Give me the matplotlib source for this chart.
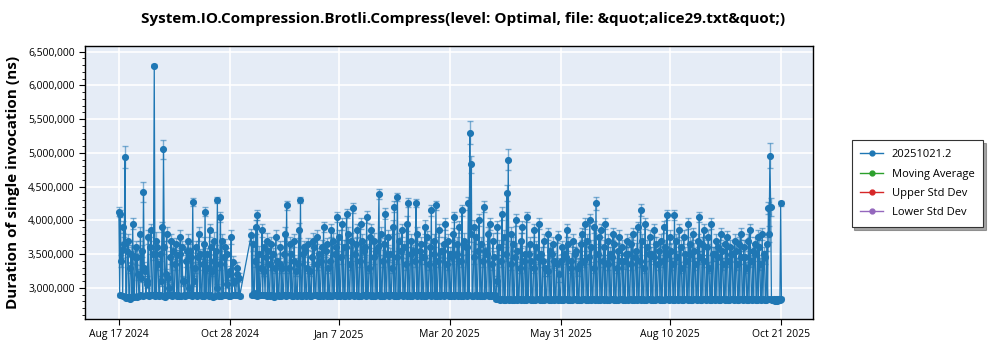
import matplotlib
matplotlib.use("Agg")
import matplotlib.pyplot as plt
import matplotlib.dates as mdates
from matplotlib.ticker import FuncFormatter, MultipleLocator
from matplotlib.lines import Line2D
import numpy as np
import pandas as pd

plt.rcParams["font.family"] = ["Open Sans", "DejaVu Sans"]

TITLE = "System.IO.Compression.Brotli.Compress(level: Optimal, file: &quot;alice29.txt&quot;)"
Y_LABEL = "Duration of single invocation (ns)"
SERIES_NAME = "20251021.2"
LEGEND_NAMES = ["Moving Average", "Upper Std Dev", "Lower Std Dev"]

# daily runs (two per day), two stretches with a gap in early November 2024
SEG1_START = "2024-08-17"
SEG2_START = "2024-11-11"

# first run of each day, mean in thousands of ns
SEG1_A = [
    4130, 4100, 3560, 3900, 4940, 2860, 3700,
    2840, 3500, 3950, 2870, 3600, 3450, 2880,
    3800, 3550, 4420, 3250, 3100, 3750, 2900,
    3850, 2900, 6290, 3700, 3600, 2880, 3500,
    3900, 5050, 2870, 3800, 3150, 2890, 3700,
    3550, 2900, 3650, 3480, 2880, 3750, 3600,
    3100, 2880, 3550, 3700, 2890, 3450, 4270,
    3100, 3600, 2900, 3800, 3500, 2880, 3650,
    4130, 3300, 2890, 3850, 3600, 2870, 3700,
    3550, 4300, 2880, 4050, 3700, 2890, 3600,
    3500, 3200, 2880, 3750, 3380, 3080, 2900,
    3300, 3150,
]
# second run of each day
SEG1_B = [
    2900, 3400, 2880, 3650, 2850, 3550, 2870,
    3300, 2860, 2880, 3450, 2870, 3200, 2900,
    3150, 2880, 3300, 2900, 3050, 2880, 3600,
    2890, 3500, 2880, 2900, 3350, 2890, 3100,
    2880, 3600, 3200, 2890, 3000, 3450, 2880,
    2900, 3350, 2880, 2890, 3500, 2880, 3100,
    2890, 3400, 2900, 3000, 3550, 2880, 2890,
    3300, 2880, 3450, 2900, 2890, 3350, 2880,
    2900, 3500, 2880, 2890, 3250, 3400, 2880,
    3000, 2890, 3350, 2880, 2900, 3450, 2890,
    3050, 2880, 3250, 2900, 3100, 2890, 3200,
    2900, 2880,
]
SEG2_A = [
    3780, 3650, 2920, 3900, 4080, 3500, 2900,
    3850, 3600, 2890, 3700, 3550, 2880, 3650,
    3500, 2870, 3750, 3400, 2880, 3600, 3300,
    2890, 3800, 4220, 2900, 3650, 3500, 2880,
    3700, 3250, 2890, 3850, 4300, 2880, 3600,
    3550, 2900, 3650, 3250, 2880, 3700, 3600,
    2890, 3750, 3500, 2880, 3600, 3900, 2900,
    3650, 3300, 2880, 3850, 3700, 2890, 3600,
    4050, 3750, 2900, 3950, 3600, 2880, 4100,
    3800, 2890, 3700, 4180, 2900, 3650, 3850,
    2880, 3950, 3700, 2890, 3600, 4050, 2900,
    3750, 3850, 2880, 3700, 3550, 2890, 4390,
    3800, 2880, 3650, 4100, 2900, 3750, 3500,
    2890, 3900, 4200, 2880, 4350, 3700, 2900,
    3850, 3600, 2890, 3950, 4260, 2880, 3700,
    3550, 2900, 4260, 3800, 2890, 3650, 3450,
    2880, 3900, 3750, 2900, 3600, 4150, 2890,
    3700, 4220, 2880, 3850, 3550, 2900, 3650,
    3950, 2890, 3700, 3500, 2880, 3800, 4050,
    2900, 3650, 3900, 2880, 4150, 3700, 2890,
    3600, 4250, 5300, 4830, 2880, 3900, 3750,
    2890, 4000, 3650, 2880, 4200, 3550, 2900,
    3800, 3950, 2880, 3700, 3450, 2840, 3900,
    3600, 2830, 4100, 3750, 2820, 4410, 4900,
    2830, 3800, 3650, 2820, 4000, 3550, 2830,
    3700, 3900, 2820, 3500, 4050, 2830, 3650,
    3400, 2820, 3850, 3600, 2830, 3950, 3500,
    2820, 3700, 3300, 2830, 3800, 3550, 2820,
    3650, 3400, 2830, 3750, 3200, 2820, 3600,
    3500, 2830, 3850, 3650, 2820, 3400, 3700,
    2830, 3550, 3300, 2820, 3650, 3800, 2830,
    3950, 3700, 2820, 4000, 3600, 2830, 3900,
    4250, 2820, 3750, 3850, 2830, 3600, 3950,
    2820, 3700, 3500, 2830, 3800, 3650, 2820,
    3550, 3750, 2830, 3600, 3400, 2820, 3700,
    3500, 2830, 3650, 3800, 2820, 3550, 3900,
    2830, 4150, 3700, 2820, 3950, 3600, 2830,
    3750, 3500, 2820, 3850, 3650, 2830, 3550,
    3700, 2820, 3900, 3600, 4080, 2830, 3750,
    3550, 2820, 4080, 3700, 2830, 3850, 3600,
    2820, 3750, 3500, 2830, 3950, 3650, 2820,
    3800, 3550, 2830, 3700, 4050, 2820, 3650,
    3850, 2830, 3600, 3750, 2820, 3950, 3500,
    2830, 3700, 3600, 2820, 3800, 3550, 2830,
    3650, 3750, 2820, 3600, 3500, 2830, 3700,
    3550, 2820, 3650, 3800, 2830, 3600, 3450,
    2820, 3700, 3850, 2830, 3550, 3650, 2820,
    3750, 3600, 2830, 3800, 3500, 2820, 3650,
    4180, 4960, 2830, 2820, 2810, 2830, 2820,
    2830, 4250,
]
SEG2_B = [
    2900, 2890, 3400, 2880, 2900, 2890, 3300,
    2890, 3250, 3450, 2880, 2900, 3350, 2890,
    2880, 3300, 2890, 2900, 3350, 2880, 2890,
    3500, 2880, 2900, 3300, 2890, 2880, 3400,
    2890, 2880, 3350, 2900, 2880, 3500, 2890,
    2880, 3300, 2890, 2880, 3450, 2890, 2900,
    3350, 2880, 2890, 3400, 2880, 2890, 3550,
    2880, 2900, 3400, 2880, 2890, 3500, 2880,
    2890, 2880, 3450, 2890, 2880, 3600, 2890,
    2880, 3350, 2890, 2880, 3500, 2890, 2880,
    3400, 2880, 2890, 3550, 2880, 2890, 3300,
    2880, 2890, 3450, 2880, 2900, 3600, 2880,
    2890, 3400, 2880, 2890, 3500, 2880, 2890,
    3300, 2880, 2890, 3450, 2880, 2890, 3550,
    2880, 2890, 3350, 2880, 2890, 3500, 2880,
    2890, 3400, 2880, 2890, 3550, 2880, 2900,
    3450, 2880, 2890, 3350, 2880, 2890, 3500,
    2880, 2890, 3400, 2880, 2890, 3550, 2880,
    2890, 3350, 2880, 2890, 3450, 2880, 2890,
    3500, 2880, 2890, 3400, 2880, 2890, 3600,
    2880, 2890, 3800, 2880, 3450, 2890, 2880,
    3550, 2880, 2890, 3400, 2880, 2890, 3500,
    2880, 2890, 3350, 2880, 2890, 3100, 2830,
    2820, 3400, 2830, 2820, 3500, 2830, 2820,
    3350, 2820, 2830, 3450, 2820, 2830, 3300,
    2820, 2830, 3400, 2820, 2830, 3500, 2820,
    2830, 3300, 2820, 2830, 3450, 2820, 2830,
    3400, 2820, 2830, 3250, 2820, 2830, 3500,
    2820, 2830, 3350, 2820, 2830, 3400, 2820,
    2830, 3450, 2820, 2830, 3300, 2820, 2830,
    3500, 2820, 2830, 3350, 2820, 2830, 3400,
    2820, 2830, 3450, 2820, 2830, 3300, 2820,
    2830, 3500, 2820, 2830, 3400, 2820, 2830,
    3350, 2820, 2830, 3450, 2820, 2830, 3300,
    2820, 2830, 3400, 2820, 2830, 3500, 2820,
    2830, 3350, 2820, 2830, 3450, 2820, 2830,
    3400, 2820, 2830, 3300, 2820, 2830, 3500,
    2820, 2830, 3450, 2820, 2830, 3350, 2820,
    2830, 3400, 2820, 2830, 3500, 2820, 2830,
    3350, 2820, 2830, 3450, 2820, 2830, 3300,
    2820, 2830, 3400, 2820, 2830, 3500, 2820,
    2830, 3350, 2820, 2830, 3450, 2820, 2830,
    3400, 2820, 2830, 3300, 2820, 2830, 3500,
    2820, 2830, 3450, 2820, 2830, 3350, 2820,
    2830, 3400, 2820, 2830, 3500, 2820, 2830,
    3350, 2820, 2830, 3450, 2820, 2830, 3300,
    2820, 2830, 3400, 2820, 2830, 3500, 2820,
    2830, 3350, 2820, 2830, 3450, 2820, 2830,
    3800, 4200, 2820, 2830, 2820, 2810, 2830,
    2820, 2830,
]

# std dev per run, thousands of ns
SEG1_A_ERR = [
    60, 50, 120, 90, 160, 30, 100,
    30, 130, 80, 30, 90, 110, 30,
    100, 90, 150, 80, 70, 100, 30,
    90, 30, 20, 120, 100, 30, 110,
    80, 140, 30, 100, 70, 30, 90,
    100, 30, 90, 80, 30, 100, 90,
    60, 30, 100, 90, 30, 80, 60,
    70, 90, 30, 100, 80, 30, 110,
    60, 80, 30, 90, 100, 30, 120,
    90, 40, 30, 70, 100, 30, 120,
    90, 80, 30, 100, 90, 60, 30,
    80, 70,
]
SEG1_B_ERR = [
    30, 90, 30, 100, 30, 90, 30,
    80, 30, 30, 90, 30, 80, 30,
    70, 30, 80, 30, 60, 30, 100,
    30, 90, 30, 30, 80, 30, 70,
    30, 100, 80, 30, 60, 90, 30,
    30, 80, 30, 30, 90, 30, 70,
    30, 90, 30, 60, 100, 30, 30,
    80, 30, 90, 30, 30, 80, 30,
    30, 90, 30, 30, 70, 90, 30,
    60, 30, 80, 30, 30, 90, 30,
    60, 30, 70, 30, 60, 30, 80,
    30, 30,
]
SEG2_A_ERR = [
    90, 110, 30, 100, 80, 120, 30,
    100, 90, 30, 110, 80, 30, 100,
    90, 30, 110, 100, 30, 90, 80,
    30, 100, 70, 30, 110, 90, 30,
    100, 80, 30, 110, 50, 30, 90,
    100, 30, 90, 80, 30, 110, 90,
    30, 100, 90, 30, 110, 80, 30,
    90, 80, 30, 100, 110, 30, 90,
    80, 100, 30, 90, 110, 30, 70,
    100, 30, 110, 70, 30, 90, 100,
    30, 80, 100, 30, 110, 90, 30,
    100, 90, 30, 110, 80, 30, 70,
    100, 30, 90, 80, 30, 110, 90,
    30, 100, 80, 30, 60, 110, 30,
    90, 100, 30, 110, 70, 30, 100,
    90, 30, 60, 100, 30, 110, 90,
    30, 100, 90, 30, 110, 80, 30,
    100, 70, 30, 90, 110, 30, 100,
    90, 30, 100, 110, 30, 90, 80,
    30, 100, 90, 30, 80, 110, 30,
    100, 90, 170, 130, 30, 110, 100,
    30, 90, 110, 30, 80, 100, 30,
    100, 90, 30, 110, 100, 30, 90,
    110, 30, 90, 100, 30, 120, 150,
    30, 100, 110, 30, 90, 120, 30,
    110, 90, 30, 120, 80, 30, 100,
    110, 30, 90, 100, 30, 80, 110,
    30, 100, 120, 30, 90, 110, 30,
    100, 110, 30, 90, 120, 30, 100,
    110, 30, 90, 100, 30, 110, 100,
    30, 110, 120, 30, 100, 90, 30,
    80, 100, 30, 90, 110, 30, 90,
    90, 30, 100, 90, 30, 110, 80,
    30, 100, 110, 30, 90, 100, 30,
    110, 100, 30, 110, 120, 30, 100,
    110, 30, 100, 90, 30, 110, 80,
    30, 90, 100, 30, 80, 110, 30,
    100, 110, 30, 90, 100, 30, 110,
    100, 30, 90, 110, 80, 30, 100,
    110, 30, 80, 100, 30, 90, 110,
    30, 100, 110, 30, 80, 100, 30,
    90, 110, 30, 100, 80, 30, 110,
    90, 30, 110, 100, 30, 80, 110,
    30, 100, 110, 30, 90, 110, 30,
    100, 90, 30, 110, 120, 30, 100,
    110, 30, 100, 90, 30, 110, 100,
    30, 100, 90, 30, 110, 100, 30,
    100, 110, 30, 90, 110, 30, 100,
    90, 180, 30, 30, 30, 30, 30,
    30, 40,
]
SEG2_B_ERR = [
    30, 30, 90, 30, 30, 30, 80,
    30, 80, 90, 30, 30, 90, 30,
    30, 80, 30, 30, 90, 30, 30,
    100, 30, 30, 80, 30, 30, 90,
    30, 30, 90, 30, 30, 100, 30,
    30, 80, 30, 30, 90, 30, 30,
    90, 30, 30, 90, 30, 30, 100,
    30, 30, 90, 30, 30, 100, 30,
    30, 30, 90, 30, 30, 110, 30,
    30, 90, 30, 30, 100, 30, 30,
    90, 30, 30, 100, 30, 30, 80,
    30, 30, 90, 30, 30, 110, 30,
    30, 90, 30, 30, 100, 30, 30,
    80, 30, 30, 90, 30, 30, 100,
    30, 30, 90, 30, 30, 100, 30,
    30, 90, 30, 30, 100, 30, 30,
    90, 30, 30, 90, 30, 30, 100,
    30, 30, 90, 30, 30, 100, 30,
    30, 90, 30, 30, 90, 30, 30,
    100, 30, 30, 90, 30, 30, 110,
    30, 30, 120, 30, 90, 30, 30,
    100, 30, 30, 90, 30, 30, 100,
    30, 30, 90, 30, 30, 70, 30,
    30, 90, 30, 30, 100, 30, 30,
    90, 30, 30, 100, 30, 30, 80,
    30, 30, 90, 30, 30, 100, 30,
    30, 80, 30, 30, 100, 30, 30,
    90, 30, 30, 80, 30, 30, 100,
    30, 30, 90, 30, 30, 90, 30,
    30, 100, 30, 30, 80, 30, 30,
    100, 30, 30, 90, 30, 30, 90,
    30, 30, 100, 30, 30, 80, 30,
    30, 100, 30, 30, 90, 30, 30,
    90, 30, 30, 100, 30, 30, 80,
    30, 30, 90, 30, 30, 100, 30,
    30, 90, 30, 30, 100, 30, 30,
    90, 30, 30, 80, 30, 30, 100,
    30, 30, 100, 30, 30, 90, 30,
    30, 90, 30, 30, 100, 30, 30,
    90, 30, 30, 100, 30, 30, 80,
    30, 30, 90, 30, 30, 100, 30,
    30, 90, 30, 30, 100, 30, 30,
    90, 30, 30, 80, 30, 30, 100,
    30, 30, 100, 30, 30, 90, 30,
    30, 90, 30, 30, 100, 30, 30,
    90, 30, 30, 100, 30, 30, 80,
    30, 30, 90, 30, 30, 100, 30,
    30, 90, 30, 30, 100, 30, 30,
    120, 130, 30, 30, 30, 30, 30,
    30, 30,
]

X_TICKS = ["2024-08-17", "2024-10-28", "2025-01-07", "2025-03-20",
           "2025-05-31", "2025-08-10", "2025-10-21"]

BLUE = "#1f77b4"
LEGEND_COLORS = ["#2ca02c", "#d62728", "#9467bd"]


def interleave(start, first, second):
    days = pd.date_range(start, periods=len(first))
    t = []
    v = []
    for d, a, b in zip(days, first, second):
        t += [d, d + pd.Timedelta(hours=12)]
        v += [a, b]
    return t, v


t1, v1 = interleave(SEG1_START, SEG1_A, SEG1_B)
t2, v2 = interleave(SEG2_START, SEG2_A, SEG2_B)
_, e1 = interleave(SEG1_START, SEG1_A_ERR, SEG1_B_ERR)
_, e2 = interleave(SEG2_START, SEG2_A_ERR, SEG2_B_ERR)
dates = pd.to_datetime(t1 + t2)
values = np.array(v1 + v2, dtype=float) * 1000
errors = np.array(e1 + e2, dtype=float) * 1000

fig = plt.figure(figsize=(10, 3.5), dpi=100)
ax = fig.add_axes([0.085, 0.089, 0.728, 0.78])
ax.set_facecolor("#e5ecf6")

ax.errorbar(dates, values, yerr=errors, fmt="none", ecolor=BLUE,
            elinewidth=1.0, capsize=2.5, capthick=1.0, alpha=0.55, zorder=2)
ax.plot(dates, values, color=BLUE, linewidth=0.9, marker="o",
        markersize=4.1, zorder=3)

ax.set_xlim(pd.Timestamp("2024-07-26"), pd.Timestamp("2025-11-11"))
ax.set_ylim(2_540_000, 6_585_000)

ax.set_xticks(pd.to_datetime(X_TICKS))
ax.xaxis.set_major_formatter(mdates.DateFormatter("%b %-d %Y"))
ax.yaxis.set_major_locator(plt.FixedLocator(np.arange(3_000_000, 6_500_001, 500_000)))
ax.yaxis.set_minor_locator(MultipleLocator(100_000))
ax.yaxis.set_major_formatter(FuncFormatter(lambda v, p: f"{v:,.0f}"))
ax.tick_params(axis="both", labelsize=7.5, length=4, width=0.8, color="black")
ax.tick_params(axis="y", which="minor", length=2, width=0.6)

ax.grid(True, color="white", linewidth=1.2)
ax.set_axisbelow(True)
for sp in ax.spines.values():
    sp.set_color("black")
    sp.set_linewidth(1.0)

ax.set_ylabel(Y_LABEL, fontsize=11, fontweight="bold", labelpad=6)
fig.suptitle(TITLE, x=0.463, y=0.965, fontsize=11, fontweight="bold")

handles = [Line2D([], [], color=BLUE, marker="o", markersize=3.5, linewidth=1.0,
                  label=SERIES_NAME)]
for name, c in zip(LEGEND_NAMES, LEGEND_COLORS):
    handles.append(Line2D([], [], color=c, marker="o", markersize=3.5,
                          linewidth=1.0, label=name))
leg = fig.legend(handles=handles, loc="upper left", bbox_to_anchor=(0.846, 0.615),
                 fontsize=8, frameon=True, fancybox=False, shadow=True,
                 handlelength=2.0, borderpad=0.8, labelspacing=0.75)
leg.get_frame().set_edgecolor("#333333")
leg.get_frame().set_linewidth(0.8)

fig.savefig("out.png", dpi=100)
